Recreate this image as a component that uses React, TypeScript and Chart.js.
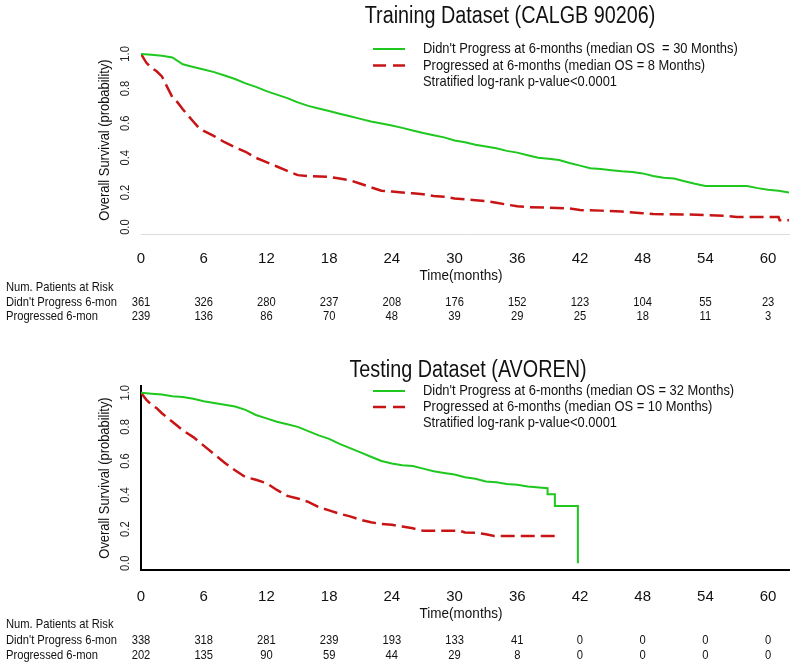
import React, { useEffect, useRef } from 'react';
import { Chart, registerables } from 'chart.js';

Chart.register(...registerables);

// ---------- data ----------
const riskTimes = [0, 6, 12, 18, 24, 30, 36, 42, 48, 54, 60];
const yTickValues = [0, 0.2, 0.4, 0.6, 0.8, 1.0];

const trainRiskNoProg = [361, 326, 280, 237, 208, 176, 152, 123, 104, 55, 23];
const trainRiskProg = [239, 136, 86, 70, 48, 39, 29, 25, 18, 11, 3];
const testRiskNoProg = [338, 318, 281, 239, 193, 133, 41, 0, 0, 0, 0];
const testRiskProg = [202, 135, 90, 59, 44, 29, 8, 0, 0, 0, 0];

// [month, survival probability]
const trainNoProg: [number, number][] = [
  [0, 1], [1, 0.995], [2, 0.99], [3, 0.98], [4, 0.94], [5, 0.925], [6, 0.91], [7, 0.895],
  [8, 0.875], [9, 0.855], [10, 0.83], [11, 0.81], [12, 0.785], [13, 0.765], [14, 0.745],
  [15, 0.72], [16, 0.7], [17, 0.685], [18, 0.67], [19, 0.655], [20, 0.64], [21, 0.625],
  [22, 0.61], [23, 0.598], [24, 0.587], [25, 0.573], [26, 0.558], [27, 0.543], [28, 0.53],
  [29, 0.518], [30, 0.5], [31, 0.49], [32, 0.475], [33, 0.465], [34, 0.455], [35, 0.44],
  [36, 0.43], [37, 0.415], [38, 0.4], [39, 0.395], [40, 0.387], [41, 0.37], [42, 0.355],
  [43, 0.34], [44, 0.335], [45, 0.328], [46, 0.322], [47, 0.318], [48, 0.31], [49, 0.295],
  [50, 0.285], [51, 0.28], [52, 0.265], [53, 0.25], [54, 0.237], [58, 0.237], [59, 0.225],
  [60, 0.215], [61, 0.21], [62, 0.2],
];
const trainProg: [number, number][] = [
  [0, 1], [0.5, 0.95], [1, 0.92], [1.5, 0.9], [2, 0.87], [2.5, 0.81], [3, 0.75], [3.5, 0.72],
  [4, 0.68], [4.5, 0.645], [5, 0.61], [5.5, 0.575], [6, 0.555], [7, 0.525], [8, 0.49],
  [9, 0.46], [10, 0.435], [11, 0.4], [12, 0.375], [13, 0.35], [14, 0.325], [15, 0.3],
  [16, 0.295], [18, 0.29], [19, 0.28], [20, 0.27], [21, 0.25], [22, 0.23], [23, 0.21],
  [24, 0.205], [26, 0.195], [27, 0.19], [28, 0.18], [29, 0.175], [30, 0.165], [31, 0.16],
  [32, 0.155], [33, 0.15], [34, 0.14], [35, 0.13], [36, 0.12], [37, 0.115], [39, 0.112],
  [41, 0.108], [42, 0.098], [44, 0.095], [46, 0.09], [48, 0.08], [49, 0.075], [52, 0.073],
  [54, 0.07], [56, 0.065], [57, 0.058], [61, 0.058], [61.1, 0.04], [62, 0.04],
];
const testNoProg: [number, number][] = [
  [0, 1], [1, 0.995], [2, 0.99], [3, 0.98], [4, 0.975], [5, 0.965], [6, 0.95], [7, 0.94],
  [8, 0.93], [9, 0.92], [10, 0.9], [11, 0.87], [12, 0.85], [13, 0.83], [14, 0.815], [15, 0.8],
  [16, 0.775], [17, 0.75], [18, 0.73], [19, 0.7], [20, 0.675], [21, 0.65], [22, 0.625],
  [23, 0.6], [24, 0.585], [25, 0.575], [26, 0.57], [27, 0.555], [28, 0.54], [29, 0.53],
  [30, 0.52], [31, 0.505], [32, 0.495], [33, 0.48], [34, 0.475], [35, 0.465], [36, 0.46],
  [37, 0.45], [38.9, 0.44], [38.9, 0.405], [39.6, 0.405], [39.6, 0.335], [41.8, 0.335],
  [41.8, 0.0],
];
const testProg: [number, number][] = [
  [0, 1], [0.5, 0.96], [1, 0.93], [1.5, 0.91], [2, 0.88], [3, 0.83], [4, 0.78], [5, 0.74],
  [6, 0.69], [7, 0.64], [8, 0.59], [9, 0.545], [10, 0.505], [11, 0.49], [12, 0.47],
  [13, 0.43], [14, 0.395], [15, 0.38], [16, 0.36], [17, 0.33], [18, 0.31], [19, 0.29],
  [20, 0.275], [21, 0.255], [22, 0.24], [23, 0.23], [24, 0.225], [25, 0.215], [26, 0.205],
  [27, 0.19], [30.5, 0.19], [31, 0.18], [32, 0.178], [33, 0.17], [33.8, 0.16], [39.9, 0.16],
];

const trainLegend = [
  "Didn't Progress at 6-months (median OS  = 30 Months)",
  'Progressed at 6-months (median OS = 8 Months)',
  'Stratified log-rank p-value<0.0001',
];
const testLegend = [
  "Didn't Progress at 6-months (median OS = 32 Months)",
  'Progressed at 6-months (median OS = 10 Months)',
  'Stratified log-rank p-value<0.0001',
];
const riskHeader = 'Num. Patients at Risk';
const riskLabels = ["Didn't Progress 6-mon", 'Progressed 6-mon'];
const yTitle = 'Overall Survival (probability)';
const xTitle = 'Time(months)';

// ---------- styles ----------
const FONT = '"Liberation Sans", Arial, Helvetica, sans-serif';
const GREEN = '#1ec81e';
const RED = '#c81414';
const SX = 0.86;

function drawText(
  ctx: CanvasRenderingContext2D, s: string, x: number, y: number, size: number,
  align: CanvasTextAlign = 'left', rot = 0, sx = SX, color = '#111'
) {
  ctx.save();
  ctx.translate(x, y);
  if (rot) ctx.rotate(rot);
  ctx.scale(sx, 1);
  ctx.font = `${size}px ${FONT}`;
  ctx.textAlign = align;
  ctx.textBaseline = 'middle';
  ctx.fillStyle = color;
  ctx.fillText(s, 0, 0);
  ctx.restore();
}

type PanelCfg = {
  height: number;
  top: number;
  padTop: number;
  padBottom: number;
  tickPad: number;
  axisColor: string;
  axisWidth: number;
  yBorder: boolean;
  title: string;
  titleX: number;
  titleY: number;
  legend: string[];
  legendY: number[];
  yTitleY: number;
  xTitleY: number;
  riskY: number[];
  risk1: number[];
  risk2: number[];
  green: [number, number][];
  red: [number, number][];
};

function overlay(cfg: PanelCfg) {
  return {
    id: 'overlay',
    afterDraw(chart: any) {
      const ctx: CanvasRenderingContext2D = chart.ctx;
      const xs = chart.scales.x;
      const ys = chart.scales.y;
      // title
      drawText(ctx, cfg.title, cfg.titleX, cfg.titleY, 23, 'center');
      // legend
      ctx.save();
      ctx.lineWidth = 2;
      ctx.strokeStyle = GREEN;
      ctx.beginPath();
      ctx.moveTo(373, cfg.legendY[0]);
      ctx.lineTo(405, cfg.legendY[0]);
      ctx.stroke();
      ctx.strokeStyle = RED;
      ctx.lineWidth = 2.5;
      ctx.setLineDash([13, 7]);
      ctx.beginPath();
      ctx.moveTo(373, cfg.legendY[1]);
      ctx.lineTo(405, cfg.legendY[1]);
      ctx.stroke();
      ctx.restore();
      cfg.legend.forEach((t, i) => drawText(ctx, t, 423, cfg.legendY[i], 15));
      // y axis labels (rotated)
      yTickValues.forEach((v) => {
        drawText(ctx, v.toFixed(1), 125, ys.getPixelForValue(v), 13, 'center', -Math.PI / 2, SX, '#222');
      });
      drawText(ctx, yTitle, 105, cfg.yTitleY, 15, 'center', -Math.PI / 2);
      // x title
      drawText(ctx, xTitle, 461, cfg.xTitleY, 15, 'center', 0, 0.9);
      // risk table
      drawText(ctx, riskHeader, 6, cfg.riskY[0], 13);
      drawText(ctx, riskLabels[0], 6, cfg.riskY[1], 13);
      drawText(ctx, riskLabels[1], 6, cfg.riskY[2], 13);
      riskTimes.forEach((t, i) => {
        const px = xs.getPixelForValue(t);
        drawText(ctx, String(cfg.risk1[i]), px, cfg.riskY[1], 13, 'center');
        drawText(ctx, String(cfg.risk2[i]), px, cfg.riskY[2], 13, 'center');
      });
    },
  };
}

function buildConfig(cfg: PanelCfg): any {
  return {
    type: 'line',
    data: {
      datasets: [
        {
          data: cfg.green.map(([x, y]) => ({ x, y })),
          borderColor: GREEN,
          borderWidth: 2,
          pointRadius: 0,
          tension: 0,
          fill: false,
        },
        {
          data: cfg.red.map(([x, y]) => ({ x, y })),
          borderColor: RED,
          borderWidth: 2.5,
          borderDash: [14, 6],
          pointRadius: 0,
          tension: 0,
          fill: false,
        },
      ],
    },
    options: {
      responsive: false,
      animation: false,
      events: [],
      layout: { padding: { left: 141, right: 11, top: cfg.padTop, bottom: cfg.padBottom } },
      plugins: { legend: { display: false }, tooltip: { enabled: false }, title: { display: false } },
      scales: {
        x: {
          type: 'linear',
          min: 0,
          max: 62,
          afterBuildTicks: (s: any) => {
            s.ticks = riskTimes.map((v) => ({ value: v }));
          },
          afterFit: (s: any) => {
            s.height = 40;
          },
          ticks: {
            font: { family: FONT, size: 15 },
            color: '#111',
            padding: cfg.tickPad,
            maxRotation: 0,
            minRotation: 0,
            autoSkip: false,
            callback: (v: any) => String(v),
          },
          grid: { display: false, drawTicks: false },
          border: { display: true, color: cfg.axisColor, width: cfg.axisWidth },
        },
        y: {
          type: 'linear',
          min: -0.04,
          max: 1.04,
          afterFit: (s: any) => {
            s.width = 0;
          },
          ticks: { display: false },
          grid: { display: false, drawTicks: false },
          border: { display: cfg.yBorder, color: '#000', width: 2 },
        },
      },
    },
    plugins: [overlay(cfg)],
  };
}

const trainCfg: PanelCfg = {
  height: 334,
  top: 0,
  padTop: 47,
  padBottom: 60,
  tickPad: 16,
  axisColor: '#dcdcdc',
  axisWidth: 1,
  yBorder: false,
  title: 'Training Dataset (CALGB 90206)',
  titleX: 510,
  titleY: 17,
  legend: trainLegend,
  legendY: [49, 65.5, 82],
  yTitleY: 140,
  xTitleY: 276,
  riskY: [287, 302, 316],
  risk1: trainRiskNoProg,
  risk2: trainRiskProg,
  green: trainNoProg,
  red: trainProg,
};

const testCfg: PanelCfg = {
  height: 333,
  top: 334,
  padTop: 52,
  padBottom: 57,
  tickPad: 18,
  axisColor: '#000',
  axisWidth: 2,
  yBorder: true,
  title: 'Testing Dataset (AVOREN)',
  titleX: 468,
  titleY: 37,
  legend: testLegend,
  legendY: [57, 73, 89],
  yTitleY: 144,
  xTitleY: 280,
  riskY: [290, 306, 321],
  risk1: testRiskNoProg,
  risk2: testRiskProg,
  green: testNoProg,
  red: testProg,
};

function Panel({ cfg }: { cfg: PanelCfg }) {
  const ref = useRef<HTMLCanvasElement | null>(null);
  useEffect(() => {
    if (!ref.current) return;
    const chart = new Chart(ref.current, buildConfig(cfg));
    return () => chart.destroy();
  }, [cfg]);
  return (
    <canvas
      ref={ref}
      width={800}
      height={cfg.height}
      style={{ position: 'absolute', left: 0, top: cfg.top, width: 800, height: cfg.height, display: 'block' }}
    />
  );
}

export default function App() {
  return (
    <div style={{ position: 'fixed', left: 0, top: 0, width: 800, height: 667, background: '#fff', overflow: 'hidden' }}>
      <Panel cfg={trainCfg} />
      <Panel cfg={testCfg} />
    </div>
  );
}
